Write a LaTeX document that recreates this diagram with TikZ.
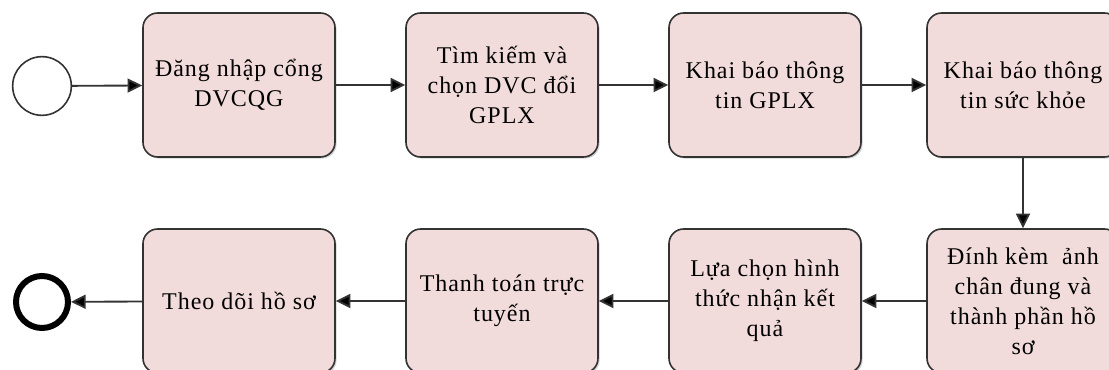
\documentclass[tikz,border=0pt]{standalone}
\usepackage{fontspec}
\setmainfont[LetterSpace=4]{Liberation Serif}
\usetikzlibrary{arrows.meta,shadows}
\definecolor{boxfill}{HTML}{F2DCDB}
\definecolor{edge}{HTML}{333333}
\tikzset{
  stepbox/.style={draw=edge, line width=1.2pt, fill=boxfill, rounded corners=11pt,
    minimum width=144pt, minimum height=108pt, inner sep=0pt, align=center,
    font=\fontsize{18pt}{22.5pt}\selectfont, text=black,
    drop shadow={shadow xshift=1.2pt, shadow yshift=-1.2pt, opacity=0.35, fill=gray}},
  conn/.style={draw=edge, line width=1.4pt, -{Triangle[length=11pt,width=10.5pt,fill=black]}},
}
\begin{document}
\begin{tikzpicture}[x=0.75pt,y=-0.75pt]
\useasboundingbox (0,0) rectangle (1109,370);
\clip (0,0) rectangle (1109,370);
\node[circle, draw=edge, line width=1.2pt, minimum size=44pt, inner sep=0pt] (start) at (42,86) {};
\node[circle, draw=black, line width=4.5pt, minimum size=39pt, inner sep=0pt] (end) at (42,302) {};
\node[stepbox] (b1) at (239,85) {Đăng nhập cổng\\DVCQG};
\node[stepbox] (b2) at (502,85) {Tìm kiếm và\\chọn DVC đổi\\GPLX};
\node[stepbox] (b3) at (765,85) {Khai báo thông\\tin GPLX};
\node[stepbox] (b4) at (1023,85) {Khai báo thông\\tin sức khỏe};
\node[stepbox] (b8) at (1023,301) {Đính kèm\ \ ảnh\\chân đung và\\thành phần hồ\\sơ};
\node[stepbox] (b7) at (765,301) {Lựa chọn hình\\thức nhận kết\\quả};
\node[stepbox] (b6) at (502,301) {Thanh toán trực\\tuyến};
\node[stepbox] (b5) at (239,301) {Theo dõi hồ sơ};
\draw[conn] (start) -- (b1);
\draw[conn] (b1) -- (b2);
\draw[conn] (b2) -- (b3);
\draw[conn] (b3) -- (b4);
\draw[conn] (b4) -- (b8);
\draw[conn] (b8) -- (b7);
\draw[conn] (b7) -- (b6);
\draw[conn] (b6) -- (b5);
\draw[conn] (b5) -- (end);
\end{tikzpicture}
\end{document}
